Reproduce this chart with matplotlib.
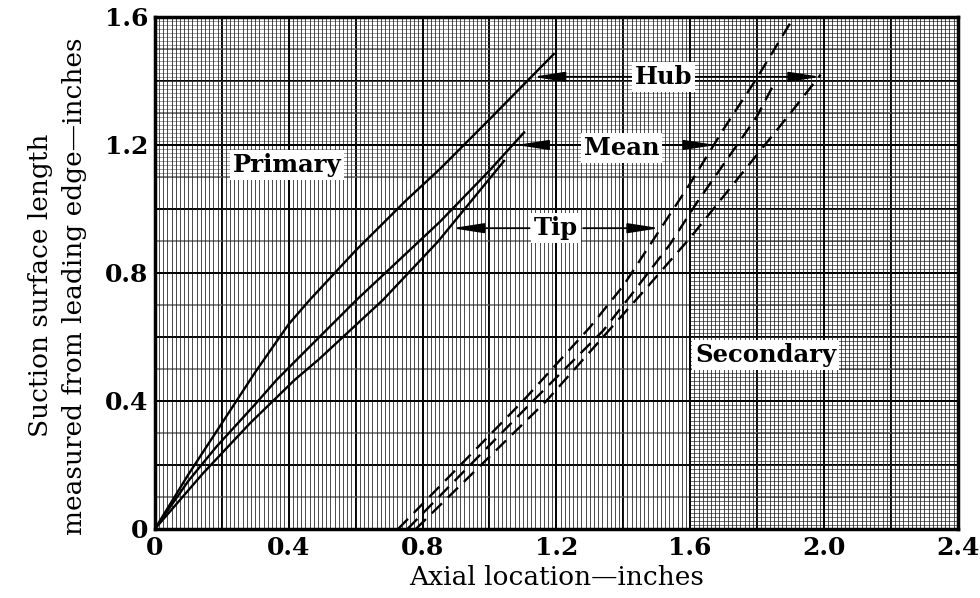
import numpy as np
import matplotlib
matplotlib.use("Agg")
import matplotlib.pyplot as plt

# ---------------- data ----------------
# Primary blade (solid lines)
primary_hub_x = [0.0, 0.05, 0.10, 0.20, 0.30, 0.40, 0.463, 0.60, 0.752, 0.852, 1.00, 1.195]
primary_hub_y = [0.0, 0.085, 0.17, 0.33, 0.49, 0.64, 0.716, 0.87, 1.028, 1.125, 1.28, 1.487]

primary_mean_x = [0.0, 0.10, 0.184, 0.30, 0.364, 0.423, 0.603, 0.852, 1.00, 1.106]
primary_mean_y = [0.0, 0.15, 0.257, 0.39, 0.466, 0.528, 0.716, 0.96, 1.12, 1.242]

primary_tip_x = [0.0, 0.144, 0.284, 0.418, 0.49, 0.682, 0.846, 1.046]
primary_tip_y = [0.0, 0.174, 0.33, 0.466, 0.53, 0.716, 0.898, 1.153]

# Secondary blade (dashed lines)
secondary_tip_x = [0.727, 1.10, 1.30, 1.40, 1.50, 1.60, 1.70, 1.80, 1.91]
secondary_tip_y = [0.0, 0.40, 0.63, 0.76, 0.92, 1.08, 1.25, 1.41, 1.60]

secondary_mean_x = [0.755, 1.13, 1.34, 1.43, 1.54, 1.62, 1.72, 1.80, 1.85]
secondary_mean_y = [0.0, 0.40, 0.62, 0.74, 0.89, 1.02, 1.17, 1.29, 1.39]

secondary_hub_x = [0.78, 1.17, 1.45, 1.60, 1.70, 1.80, 1.90, 1.99]
secondary_hub_y = [0.0, 0.40, 0.73, 0.91, 1.04, 1.17, 1.30, 1.42]

x_ticks = [0.0, 0.4, 0.8, 1.2, 1.6, 2.0, 2.4]
x_tick_labels = ["0", "0.4", "0.8", "1.2", "1.6", "2.0", "2.4"]
y_ticks = [0.0, 0.4, 0.8, 1.2, 1.6]
y_tick_labels = ["0", "0.4", "0.8", "1.2", "1.6"]

# ---------------- figure ----------------
fig = plt.figure(figsize=(9.8, 5.98), dpi=100)
ax = fig.add_axes([0.158, 0.1154, 0.8194, 0.8562])
ax.set_xlim(0, 2.4)
ax.set_ylim(0, 1.6)

serif = "DejaVu Serif"

# graph-paper grid
ax.set_xticks(x_ticks)
ax.set_yticks(y_ticks)
ax.set_xticks(np.arange(0, 2.4001, 0.0125), minor=True)
ax.grid(which="minor", axis="x", color="#1a1a1a", lw=0.55, zorder=0)
ax.grid(which="major", axis="both", color="black", lw=1.4, zorder=0)
for xv in np.arange(0.2, 2.4, 0.4):
    ax.axvline(xv, color="black", lw=1.4, zorder=0)
for k, yv in enumerate(np.arange(0.1, 1.6, 0.1)):
    if k % 2 == 1:
        ax.axhline(yv, color="black", lw=1.4, zorder=0)
    else:
        ax.axhline(yv, color="#666666", lw=1.1, zorder=0)
# dense horizontal rulings on parts of the sheet
for yv in np.arange(0.0125, 1.6, 0.0125):
    ax.axhline(yv, xmin=2 / 3, xmax=1.0, color="#333333", lw=0.5, zorder=0)
for yv in np.arange(1.1, 1.6, 0.0125):
    ax.axhline(yv, xmin=0.0, xmax=2 / 3, color="#666666", lw=0.45, zorder=0)

ax.set_axisbelow(True)

# curves
lw = 1.7
for xs, ys in [(primary_hub_x, primary_hub_y),
               (primary_mean_x, primary_mean_y),
               (primary_tip_x, primary_tip_y)]:
    ax.plot(xs, ys, color="black", lw=lw, solid_capstyle="butt", zorder=3)
for xs, ys in [(secondary_tip_x, secondary_tip_y),
               (secondary_mean_x, secondary_mean_y),
               (secondary_hub_x, secondary_hub_y)]:
    ax.plot(xs, ys, color="black", lw=lw, dashes=(6, 3.5), zorder=3)

# labels with arrows
box = dict(boxstyle="square,pad=0.12", fc="white", ec="none")
tfont = dict(family=serif, fontsize=17.5, fontweight="bold", zorder=6)
ax.text(0.395, 1.137, "Primary", ha="center", va="center", bbox=box, **tfont)
ax.text(1.826, 0.544, "Secondary", ha="center", va="center", bbox=box, **tfont)
ax.text(1.521, 1.412, "Hub", ha="center", va="center", bbox=box, **tfont)
ax.text(1.394, 1.19, "Mean", ha="center", va="center", bbox=box, **tfont)
ax.text(1.198, 0.94, "Tip", ha="center", va="center", bbox=box, **tfont)

arrow = dict(arrowstyle="-|>,head_length=1.6,head_width=0.25", lw=1.3,
             color="black", shrinkA=0, shrinkB=0, mutation_scale=12)
for (xs, ys), (xt, yt) in [((1.43, 1.413), (1.13, 1.413)),
                           ((1.61, 1.413), (1.99, 1.413)),
                           ((1.28, 1.20), (1.081, 1.20)),
                           ((1.51, 1.20), (1.677, 1.20)),
                           ((1.12, 0.94), (0.888, 0.94)),
                           ((1.28, 0.94), (1.509, 0.94))]:
    ax.annotate("", xy=(xt, yt), xytext=(xs, ys), arrowprops=arrow, zorder=5)

# axes styling
ax.set_xticklabels(x_tick_labels, family=serif, fontsize=18, fontweight="bold")
ax.set_yticklabels(y_tick_labels, family=serif, fontsize=18, fontweight="bold")
ax.tick_params(which="both", length=0, pad=5)
for s in ax.spines.values():
    s.set_linewidth(2.5)
    s.set_zorder(7)

ax.set_xlabel("Axial location\u2014inches", family=serif, fontsize=19, labelpad=4)
ax.set_ylabel("Suction surface length\nmeasured from leading edge\u2014inches",
              family=serif, fontsize=19, linespacing=1.45)
ax.yaxis.set_label_coords(-0.085, 0.475)

fig.savefig("out.png", dpi=100)
